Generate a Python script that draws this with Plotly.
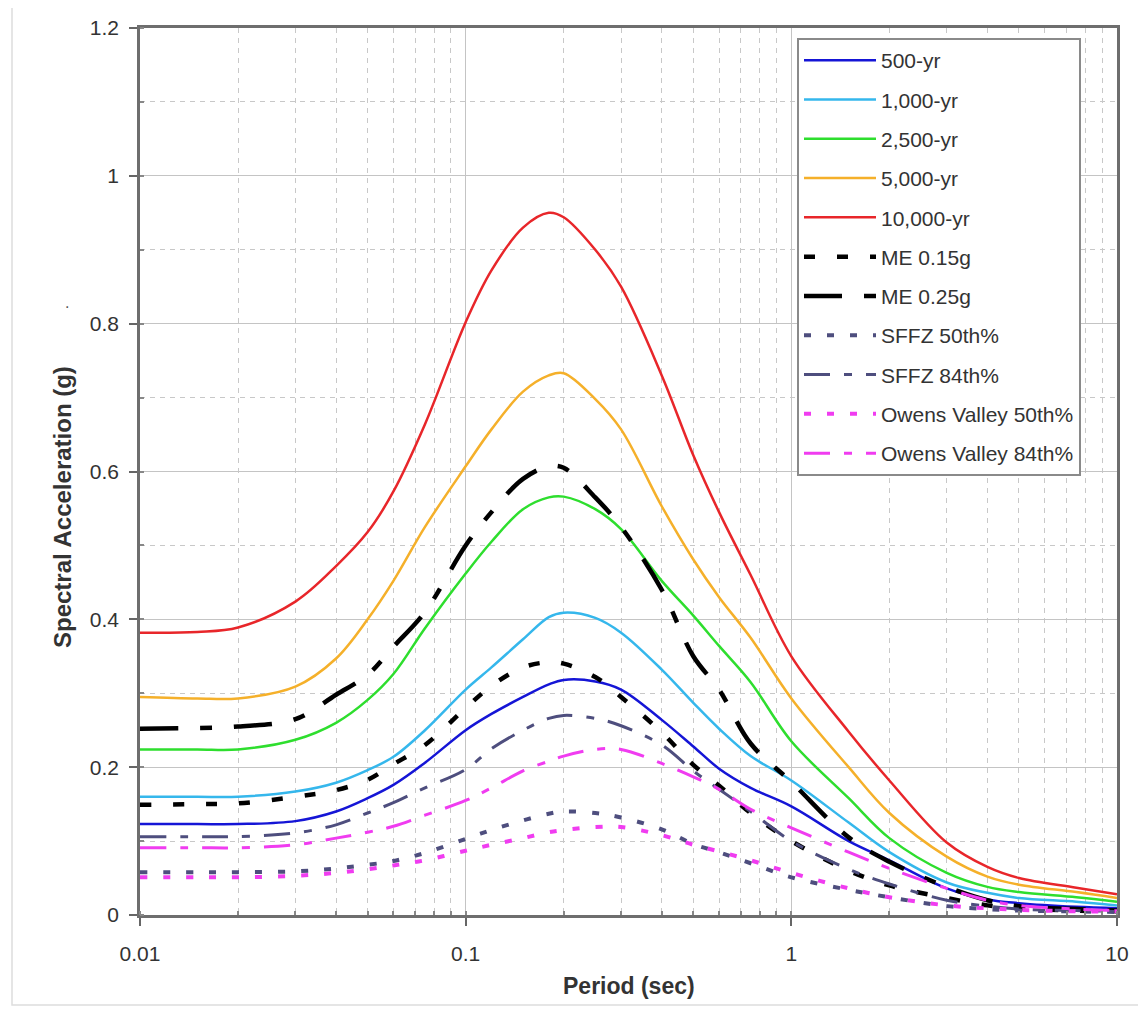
import plotly.graph_objects as go

# ---------------- data ----------------
period = [0.01, 0.015, 0.02, 0.03, 0.04, 0.05, 0.06, 0.075, 0.1, 0.12, 0.15, 0.18, 0.2,
          0.25, 0.3, 0.4, 0.5, 0.6, 0.75, 1.0, 1.5, 2.0, 3.0, 4.0, 5.0, 7.5, 10.0]

sa_500 = [0.123, 0.123, 0.123, 0.127, 0.140, 0.158, 0.176, 0.206, 0.250, 0.272, 0.295, 0.312, 0.318,
          0.316, 0.305, 0.264, 0.228, 0.198, 0.172, 0.147, 0.100, 0.074, 0.036, 0.021, 0.016, 0.011, 0.009]
sa_1000 = [0.160, 0.160, 0.160, 0.167, 0.179, 0.196, 0.214, 0.250, 0.305, 0.335, 0.373, 0.403, 0.409,
           0.402, 0.382, 0.332, 0.287, 0.252, 0.215, 0.182, 0.125, 0.085, 0.044, 0.030, 0.023, 0.018, 0.013]
sa_2500 = [0.224, 0.224, 0.224, 0.237, 0.260, 0.291, 0.326, 0.388, 0.462, 0.505, 0.549, 0.565, 0.566,
           0.549, 0.522, 0.452, 0.405, 0.364, 0.315, 0.235, 0.158, 0.104, 0.057, 0.038, 0.031, 0.024, 0.018]
sa_5000 = [0.295, 0.293, 0.293, 0.309, 0.347, 0.400, 0.452, 0.525, 0.607, 0.657, 0.708, 0.730, 0.733,
           0.698, 0.657, 0.553, 0.481, 0.430, 0.375, 0.293, 0.200, 0.138, 0.079, 0.052, 0.041, 0.031, 0.023]
sa_10000 = [0.382, 0.383, 0.389, 0.424, 0.472, 0.518, 0.573, 0.664, 0.802, 0.872, 0.930, 0.950, 0.944,
            0.900, 0.850, 0.730, 0.622, 0.545, 0.460, 0.350, 0.248, 0.182, 0.098, 0.065, 0.050, 0.037, 0.028]
me_015 = [0.149, 0.150, 0.151, 0.160, 0.169, 0.183, 0.204, 0.230, 0.280, 0.310, 0.335, 0.342, 0.340,
          0.322, 0.295, 0.247, 0.203, 0.175, 0.138, 0.100, 0.060, 0.040, 0.023, 0.013, 0.009, 0.006, 0.005]
me_025 = [0.252, 0.253, 0.255, 0.265, 0.298, 0.325, 0.363, 0.410, 0.500, 0.545, 0.590, 0.607, 0.605,
          0.565, 0.525, 0.440, 0.350, 0.305, 0.232, 0.180, 0.105, 0.072, 0.038, 0.020, 0.012, 0.008, 0.006]
sffz_50 = [0.058, 0.058, 0.058, 0.059, 0.063, 0.068, 0.073, 0.084, 0.103, 0.115, 0.128, 0.137, 0.140,
           0.138, 0.132, 0.116, 0.096, 0.085, 0.070, 0.051, 0.034, 0.024, 0.012, 0.008, 0.006, 0.005, 0.004]
sffz_84 = [0.106, 0.106, 0.106, 0.111, 0.122, 0.138, 0.152, 0.172, 0.197, 0.225, 0.250, 0.266, 0.270,
           0.266, 0.256, 0.230, 0.195, 0.170, 0.140, 0.100, 0.062, 0.042, 0.020, 0.012, 0.008, 0.006, 0.005]
ov_50 = [0.051, 0.051, 0.051, 0.053, 0.057, 0.062, 0.067, 0.074, 0.087, 0.095, 0.104, 0.112, 0.115,
         0.119, 0.119, 0.108, 0.095, 0.086, 0.074, 0.057, 0.036, 0.024, 0.013, 0.009, 0.007, 0.005, 0.005]
ov_84 = [0.091, 0.091, 0.091, 0.095, 0.104, 0.112, 0.120, 0.135, 0.155, 0.172, 0.195, 0.208, 0.215,
         0.224, 0.224, 0.205, 0.187, 0.170, 0.143, 0.118, 0.085, 0.063, 0.036, 0.020, 0.013, 0.008, 0.006]

series_names = ["500-yr", "1,000-yr", "2,500-yr", "5,000-yr", "10,000-yr", "ME 0.15g", "ME 0.25g",
                "SFFZ 50th%", "SFFZ 84th%", "Owens Valley 50th%", "Owens Valley 84th%"]
series_values = [sa_500, sa_1000, sa_2500, sa_5000, sa_10000, me_015, me_025,
                 sffz_50, sffz_84, ov_50, ov_84]

x_tick_vals = [0.01, 0.1, 1, 10]
x_tick_text = ["0.01", "0.1", "1", "10"]
y_tick_vals = [0, 0.2, 0.4, 0.6, 0.8, 1.0, 1.2]
y_tick_text = ["0", "0.2", "0.4", "0.6", "0.8", "1", "1.2"]

# ---------------- styles ----------------
styles = [
    dict(color="#1515D6", width=2.5, dash="solid"),
    dict(color="#35B7EC", width=2.5, dash="solid"),
    dict(color="#2EDE2E", width=2.5, dash="solid"),
    dict(color="#F5B02A", width=2.5, dash="solid"),
    dict(color="#E8262A", width=2.5, dash="solid"),
    dict(color="#000000", width=4.5, dash="11px,22px"),
    dict(color="#000000", width=4.5, dash="38px,22px,12px,22px"),
    dict(color="#4E4E7E", width=4, dash="7px,16px"),
    dict(color="#4E4E7E", width=3, dash="26px,14px,8px,14px"),
    dict(color="#F03CF0", width=4, dash="7px,16px"),
    dict(color="#F03CF0", width=3, dash="26px,14px,8px,14px"),
]

FONT = "Liberation Sans, Arial, sans-serif"

fig = go.Figure()
for i, (name, vals, st) in enumerate(zip(series_names, series_values, styles)):
    fig.add_trace(go.Scatter(
        x=period, y=vals, mode="lines", name=name, legendgroup=f"g{i}",
        line=dict(color=st["color"], width=st["width"], dash=st["dash"], shape="spline", smoothing=1.0),
    ))

# page geometry (the html body adds an 8px offset)
OFF = 8
PL, PR, PT, PB = 140, 1117, 28, 915          # plot area on the page
W, H = 1130, 999
L, T = PL - OFF, PT - OFF
pw, ph = PR - PL, PB - PT
R, B = W - L - pw, H - T - ph


def px(xp):
    return (xp - PL) / pw


def py(yp):
    return (PB - yp) / ph


fig.update_layout(
    width=W, height=H,
    margin=dict(l=L, r=R, t=T, b=B, autoexpand=False),
    paper_bgcolor="white", plot_bgcolor="white",
    font=dict(family=FONT, size=21, color="#333333"),
    showlegend=True,
    legend=dict(
        x=px(797), y=py(38), xanchor="left", yanchor="top",
        bgcolor="white", bordercolor="#8A8A8A", borderwidth=2,
        font=dict(family=FONT, size=21, color="#333333"),
        tracegroupgap=9, itemwidth=72,
    ),
    xaxis=dict(
        type="log", range=[-2, 1],
        tickvals=x_tick_vals, ticktext=x_tick_text,
        ticks="outside", ticklen=8, tickwidth=2, tickcolor="#666666",
        ticklabelstandoff=10,
        showline=True, linecolor="#6E6E6E", linewidth=2.5, mirror=True,
        showgrid=True, gridcolor="#C4C4C4", gridwidth=1,
        zeroline=False,
        minor=dict(dtick="D1", showgrid=True, gridcolor="#C8C8C8", griddash="5px,5px",
                   gridwidth=1, ticks="inside", ticklen=4, tickcolor="#888888"),
        tickfont=dict(family=FONT, size=21, color="#333333"),
    ),
    yaxis=dict(
        range=[0, 1.2],
        tickvals=y_tick_vals, ticktext=y_tick_text,
        ticks="outside", ticklen=8, tickwidth=2, tickcolor="#666666",
        ticklabelstandoff=6,
        showline=True, linecolor="#6E6E6E", linewidth=2.5, mirror=True,
        showgrid=True, gridcolor="#C4C4C4", gridwidth=1,
        zeroline=False,
        minor=dict(dtick=0.1, showgrid=True, gridcolor="#C8C8C8", griddash="5px,5px",
                   gridwidth=1, ticks="inside", ticklen=4, tickcolor="#888888"),
        tickfont=dict(family=FONT, size=21, color="#333333"),
    ),
    annotations=[
        dict(text="<b>Period (sec)</b>", xref="paper", yref="paper",
             x=0.5, y=py(986), xanchor="center", yanchor="middle",
             showarrow=False, font=dict(family=FONT, size=23, color="#333333")),
        dict(text="<b>Spectral Acceleration (g)</b>", xref="paper", yref="paper",
             x=px(62), y=py(507), xanchor="center", yanchor="middle",
             textangle=-90, showarrow=False, font=dict(family=FONT, size=24, color="#333333")),
        dict(text=".", xref="paper", yref="paper",
             x=px(67), y=py(302), xanchor="center", yanchor="middle",
             showarrow=False, font=dict(family=FONT, size=16, color="#555555")),
    ],
    shapes=[
        dict(type="rect", xref="paper", yref="paper",
             x0=px(12), x1=px(1142), y0=py(1005), y1=py(5),
             line=dict(color="#DDDDDD", width=1.5), layer="below"),
    ],
)

fig.write_html("out.html")
